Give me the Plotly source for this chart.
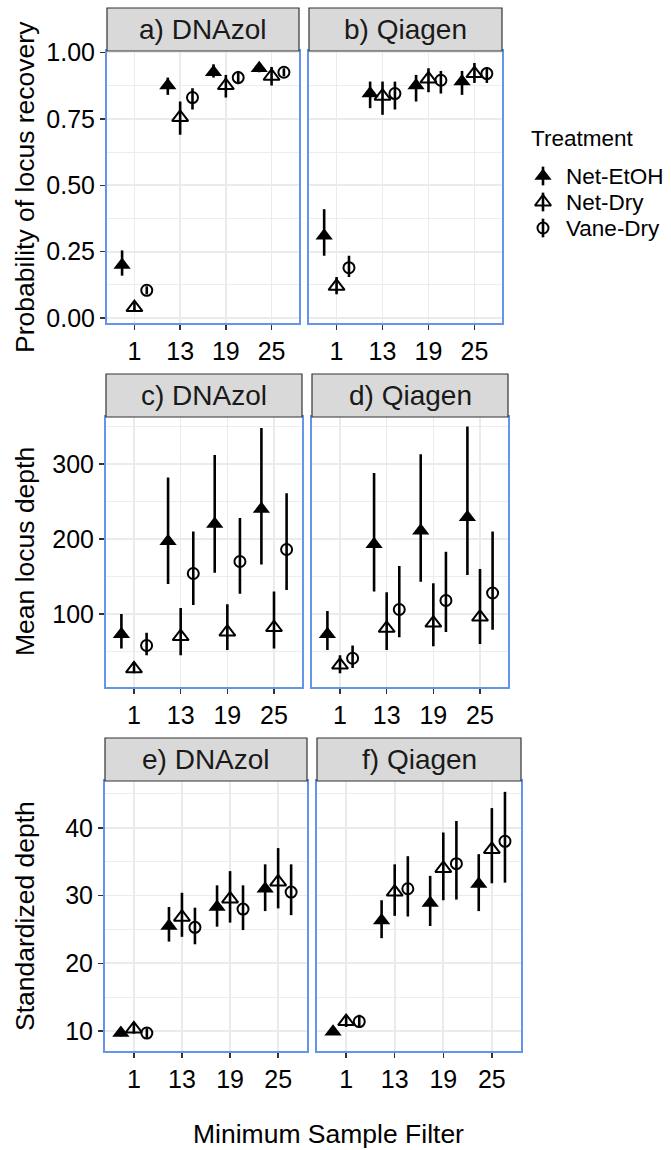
import plotly.graph_objects as go

W, H = 671, 1150

# ---------------- data ----------------
filters = ["1", "13", "19", "25"]
treatments = ["Net-EtOH", "Net-Dry", "Vane-Dry"]
panel_titles = ["a) DNAzol", "b) Qiagen", "c) DNAzol", "d) Qiagen", "e) DNAzol", "f) Qiagen"]
row_titles = ["Probability of locus recovery", "Mean locus depth", "Standardized depth"]
x_title = "Minimum Sample Filter"
legend_title = "Treatment"

# a) DNAzol - probability of locus recovery
a_etoh = [0.20, 0.875, 0.925, 0.94]
a_etoh_lo = [0.16, 0.84, 0.905, 0.925]
a_etoh_hi = [0.255, 0.905, 0.955, 0.96]
a_dry = [0.04, 0.755, 0.875, 0.91]
a_dry_lo = [0.03, 0.69, 0.83, 0.875]
a_dry_hi = [0.06, 0.815, 0.915, 0.945]
a_vane = [0.105, 0.83, 0.905, 0.925]
a_vane_lo = [0.09, 0.785, 0.88, 0.91]
a_vane_hi = [0.12, 0.865, 0.93, 0.94]

# b) Qiagen - probability of locus recovery
b_etoh = [0.31, 0.845, 0.875, 0.89]
b_etoh_lo = [0.235, 0.79, 0.815, 0.84]
b_etoh_hi = [0.41, 0.89, 0.915, 0.93]
b_dry = [0.12, 0.835, 0.90, 0.92]
b_dry_lo = [0.09, 0.765, 0.85, 0.885]
b_dry_hi = [0.155, 0.89, 0.94, 0.96]
b_vane = [0.19, 0.845, 0.895, 0.92]
b_vane_lo = [0.155, 0.785, 0.845, 0.885]
b_vane_hi = [0.235, 0.89, 0.93, 0.945]

# c) DNAzol - mean locus depth
c_etoh = [73, 197, 220, 240]
c_etoh_lo = [54, 140, 155, 166]
c_etoh_hi = [100, 282, 312, 348]
c_dry = [27, 70, 76, 82]
c_dry_lo = [21, 45, 52, 54]
c_dry_hi = [36, 108, 113, 130]
c_vane = [58, 154, 170, 186]
c_vane_lo = [45, 112, 127, 132]
c_vane_hi = [75, 210, 228, 261]

# d) Qiagen - mean locus depth
d_etoh = [73, 193, 211, 229]
d_etoh_lo = [52, 130, 143, 152]
d_etoh_hi = [104, 288, 313, 350]
d_dry = [32, 81, 88, 96]
d_dry_lo = [21, 52, 57, 60]
d_dry_hi = [45, 129, 141, 160]
d_vane = [41, 106, 118, 128]
d_vane_lo = [28, 69, 76, 79]
d_vane_hi = [58, 164, 183, 210]

# e) DNAzol - standardized depth
e_etoh = [9.7, 25.5, 28.3, 31.0]
e_etoh_lo = [9.2, 23.2, 25.4, 27.7]
e_etoh_hi = [10.2, 28.3, 31.5, 34.6]
e_dry = [10.3, 26.8, 29.5, 32.0]
e_dry_lo = [9.6, 23.9, 26.0, 28.1]
e_dry_hi = [11.2, 30.4, 33.6, 37.0]
e_vane = [9.7, 25.3, 28.0, 30.5]
e_vane_lo = [9.0, 22.8, 24.9, 27.1]
e_vane_hi = [10.4, 28.2, 31.5, 34.6]

# f) Qiagen - standardized depth
f_etoh = [9.9, 26.3, 28.9, 31.7]
f_etoh_lo = [9.5, 23.7, 25.5, 27.7]
f_etoh_hi = [10.4, 29.3, 32.9, 36.1]
f_dry = [11.4, 30.5, 34.0, 36.8]
f_dry_lo = [10.6, 27.0, 29.3, 31.8]
f_dry_hi = [12.1, 34.6, 39.3, 42.9]
f_vane = [11.4, 31.0, 34.7, 38.0]
f_vane_lo = [10.5, 26.9, 29.4, 31.9]
f_vane_hi = [12.4, 35.8, 41.0, 45.3]

panels = [
    [(a_etoh, a_etoh_lo, a_etoh_hi), (a_dry, a_dry_lo, a_dry_hi), (a_vane, a_vane_lo, a_vane_hi)],
    [(b_etoh, b_etoh_lo, b_etoh_hi), (b_dry, b_dry_lo, b_dry_hi), (b_vane, b_vane_lo, b_vane_hi)],
    [(c_etoh, c_etoh_lo, c_etoh_hi), (c_dry, c_dry_lo, c_dry_hi), (c_vane, c_vane_lo, c_vane_hi)],
    [(d_etoh, d_etoh_lo, d_etoh_hi), (d_dry, d_dry_lo, d_dry_hi), (d_vane, d_vane_lo, d_vane_hi)],
    [(e_etoh, e_etoh_lo, e_etoh_hi), (e_dry, e_dry_lo, e_dry_hi), (e_vane, e_vane_lo, e_vane_hi)],
    [(f_etoh, f_etoh_lo, f_etoh_hi), (f_dry, f_dry_lo, f_dry_hi), (f_vane, f_vane_lo, f_vane_hi)],
]

# ---------------- style / geometry ----------------
FONT = "Liberation Sans, Arial, Helvetica, sans-serif"
BORDER = "#6495ED"
GRID = "#EBEBEB"
dodge = [-0.27, 0.0, 0.27]
symbols = ["triangle-up", "triangle-up-open", "circle-open"]
sizes = [15, 14, 11]

rows_y = [(51, 323), (417, 687), (781, 1051)]
cols_x = [[(107, 299), (309, 502)], [(106, 302), (312, 508)], [(105, 307), (317, 521)]]
y_ranges = [[-0.018, 1.005], [2.7, 362.7], [7.05, 46.9]]
y_dticks = [0.25, 100, 10]
y_formats = [".2f", "d", "d"]
STRIP_H = 43
TICK_SIZE = 25
LEG_SIZE = 22.5
LEG_TOP, LEG_STEP = 163, 26


def fx(px):
    return px / W


def fy(py):
    return 1 - py / H


def marker_style(t):
    return dict(symbol=symbols[t], size=sizes[t], color="black",
                line=dict(color="black", width=0 if t == 0 else 2))


fig = go.Figure()
layout = dict(
    template="none",
    width=W, height=H, autosize=False,
    margin=dict(l=0, r=0, t=0, b=0, pad=0, autoexpand=False),
    paper_bgcolor="white", plot_bgcolor="rgba(0,0,0,0)",
    font=dict(family=FONT, color="black"),
    showlegend=False,
)
shapes = []
annotations = []

for p in range(6):
    r, c = divmod(p, 2)
    ax = p + 1
    xname = "x" if ax == 1 else f"x{ax}"
    yname = "y" if ax == 1 else f"y{ax}"
    x0, x1 = cols_x[r][c]
    y0, y1 = rows_y[r]
    positions = list(range(1, len(filters) + 1))
    for t, (mean, lo, hi) in enumerate(panels[p]):
        xs = [pos + dodge[t] for pos in positions]
        fig.add_trace(go.Scatter(
            x=xs, y=mean, mode="markers", name=treatments[t],
            xaxis=xname, yaxis=yname,
            marker=marker_style(t),
            error_y=dict(type="data", symmetric=False,
                         array=[h - m for h, m in zip(hi, mean)],
                         arrayminus=[m - l for m, l in zip(mean, lo)],
                         width=0, thickness=2.6, color="black"),
            hoverinfo="skip",
        ))
    xa = dict(
        domain=[fx(x0), fx(x1)], anchor=yname, range=[0.4, len(filters) + 0.6],
        tickmode="array", tickvals=positions, ticktext=filters, automargin=False,
        showgrid=True, gridcolor=GRID, gridwidth=1.6, zeroline=False,
        showline=True, mirror=True, linecolor=BORDER, linewidth=2,
        ticks="outside", ticklen=5, tickwidth=1.5, tickcolor="#333333",
        tickfont=dict(size=TICK_SIZE, color="black", family=FONT),
        fixedrange=True,
    )
    ya = dict(
        domain=[fy(y1), fy(y0)], anchor=xname, range=y_ranges[r], automargin=False,
        tick0=0, dtick=y_dticks[r], tickformat=y_formats[r],
        showgrid=True, gridcolor=GRID, gridwidth=1.6, zeroline=False,
        minor=dict(showgrid=True, gridcolor=GRID, gridwidth=0.9, dtick=y_dticks[r] / 2, tick0=0),
        showline=True, mirror=True, linecolor=BORDER, linewidth=2,
        tickfont=dict(size=TICK_SIZE, color="black", family=FONT),
        fixedrange=True,
    )
    if c == 0:
        ya.update(ticks="outside", ticklen=5, tickwidth=1.5, tickcolor="#333333", showticklabels=True)
    else:
        ya.update(ticks="", showticklabels=False)
    layout["xaxis" if ax == 1 else f"xaxis{ax}"] = xa
    layout["yaxis" if ax == 1 else f"yaxis{ax}"] = ya

    # facet strip
    shapes.append(dict(type="rect", xref="paper", yref="paper",
                       x0=fx(x0), x1=fx(x1), y0=fy(y0), y1=fy(y0 - STRIP_H),
                       fillcolor="#D9D9D9", line=dict(color="#333333", width=1.2), layer="above"))
    annotations.append(dict(text=panel_titles[p], xref="paper", yref="paper",
                            x=fx((x0 + x1) / 2), y=fy(y0 - STRIP_H / 2),
                            xanchor="center", yanchor="middle", showarrow=False,
                            font=dict(size=28, color="#1A1A1A", family=FONT)))

# ---------------- legend (ggplot-style pointrange keys) ----------------
legend_pos = list(range(len(treatments)))
for t in legend_pos:
    fig.add_trace(go.Scatter(
        x=[0], y=[t], mode="markers", name=treatments[t],
        xaxis="x7", yaxis="y7", marker=marker_style(t),
        error_y=dict(type="constant", value=0.36, width=0, thickness=2.6, color="black"),
        hoverinfo="skip",
    ))
layout["xaxis7"] = dict(domain=[fx(521), fx(565)], anchor="y7", range=[-1, 1],
                        visible=False, fixedrange=True, automargin=False)
layout["yaxis7"] = dict(domain=[fy(LEG_TOP + LEG_STEP * len(treatments)), fy(LEG_TOP)],
                        anchor="x7", side="right",
                        range=[len(treatments) - 0.5, -0.5], automargin=False,
                        tickmode="array", tickvals=legend_pos, ticktext=treatments,
                        showgrid=False, zeroline=False, showline=False, ticks="",
                        tickfont=dict(size=LEG_SIZE, color="black", family=FONT),
                        fixedrange=True)
annotations.append(dict(text=legend_title, xref="paper", yref="paper",
                        x=fx(529), y=fy(138), xanchor="left", yanchor="middle",
                        showarrow=False, font=dict(size=LEG_SIZE, color="black", family=FONT)))

# ---------------- axis titles ----------------
for r in range(3):
    y0, y1 = rows_y[r]
    annotations.append(dict(text=row_titles[r], xref="paper", yref="paper",
                            x=fx(25), y=fy((y0 + y1) / 2), textangle=-90,
                            xanchor="center", yanchor="middle", showarrow=False,
                            font=dict(size=26.5, color="black", family=FONT)))

annotations.append(dict(text=x_title, xref="paper", yref="paper",
                        x=fx(328), y=fy(1134), xanchor="center", yanchor="middle",
                        showarrow=False, font=dict(size=26.5, color="black", family=FONT)))

layout["shapes"] = shapes
layout["annotations"] = annotations
fig.update_layout(**layout)
fig.write_html(
    "out.html",
    config={"displayModeBar": False, "staticPlot": True},
    post_script="document.body.style.margin='0';document.body.style.padding='0';document.body.style.overflow='hidden';",
)
